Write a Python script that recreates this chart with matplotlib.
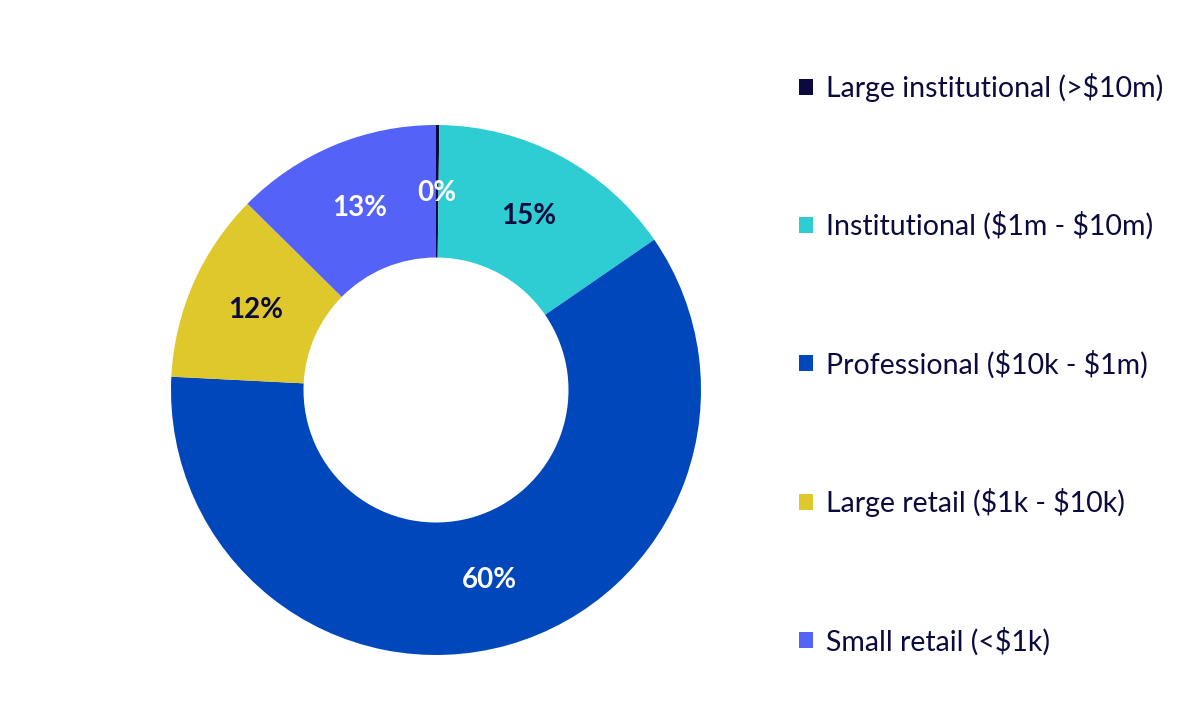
import matplotlib
matplotlib.use("Agg")
import matplotlib.pyplot as plt
import numpy as np

plt.rcParams["text.parse_math"] = False

categories = ["Large institutional (>$10m)", "Institutional ($1m - $10m)",
              "Professional ($10k - $1m)", "Large retail ($1k - $10k)",
              "Small retail (<$1k)"]
values = [0.2, 15.2, 60.4, 11.6, 12.6]
labels = ["0%", "15%", "60%", "12%", "13%"]
colors = ["#0b0a3e", "#2ecdd4", "#0047bb", "#dfc82c", "#5462f7"]
label_colors = ["white", "#0b0a3e", "white", "#0b0a3e", "white"]

W, H = 1200, 723
fig = plt.figure(figsize=(W / 100, H / 100), dpi=100)
cx, cy, r = 436, 390, 265
ax = fig.add_axes([(cx - r) / W, (H - cy - r) / H, 2 * r / W, 2 * r / H])
wedges, _ = ax.pie(values, colors=colors, startangle=90, counterclock=False,
                   radius=1, wedgeprops=dict(width=0.5, linewidth=0))
cum = np.cumsum([0] + values)
tot = cum[-1]
for i, w in enumerate(wedges):
    mid = 90 - 360 * (cum[i] + values[i] / 2) / tot
    rr = 0.745
    ax.text(rr * np.cos(np.radians(mid)), rr * np.sin(np.radians(mid)), labels[i],
            ha="center", va="center", fontsize=20, fontweight="bold",
            family="Lato", color=label_colors[i])
ax.set_xlim(-1, 1)
ax.set_ylim(-1, 1)
ax.set_aspect("equal")
ax.axis("off")

leg = fig.legend(wedges, categories, loc="upper left",
                 bbox_to_anchor=(799 / W, 1 - 73 / H), frameon=False,
                 prop=dict(family="Lato", size=20.5), labelcolor="#0b0a3e",
                 handlelength=0.5, handleheight=0.5, handletextpad=0.45,
                 labelspacing=3.86, borderaxespad=0, borderpad=0)

fig.savefig("out.png", dpi=100)
